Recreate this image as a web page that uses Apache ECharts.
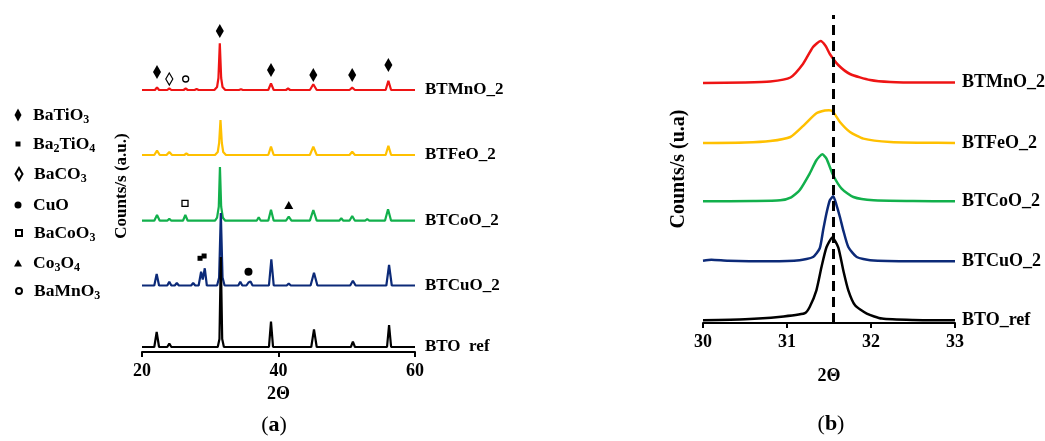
<!DOCTYPE html>
<html>
<head>
<meta charset="utf-8">
<script src="https://cdn.jsdelivr.net/npm/echarts@6/dist/echarts.min.js"></script>
<style>
  html, body { margin: 0; padding: 0; background: #fff; }
  #chart { width: 1045px; height: 441px; }
</style>
</head>
<body>
<div id="chart"></div>
<script>
// ---- (a) full patterns, 2θ vs counts above each baseline ----
var namesA = ['BTMnO_2', 'BTFeO_2', 'BTCoO_2', 'BTCuO_2', 'BTO  ref'];
var namesB = ['BTMnO_2', 'BTFeO_2', 'BTCoO_2', 'BTCuO_2', 'BTO_ref'];
var colors = ['#ee1414', '#ffc000', '#12b04c', '#0c2a78', '#000000'];
var offsetsA = [262, 197, 131.3, 66.5, 5];   // stacking offsets (a)
var offsetsB = [240, 180, 121.7, 61.7, 2.7]; // stacking offsets (b)

var xrdMnO = [[20,0],[21.9,0],[22.2,2.7],[22.5,0],[23.7,0],[24.0,1.7],[24.3,0],[26.1,0],[26.4,1.5],[26.7,0],
  [27.7,0],[28.0,1],[28.3,0],[30.6,0],[31.0,3],[31.2,12],[31.4,46.7],[31.6,12],[31.8,3],[32.2,0],
  [34.2,0],[34.5,0.8],[34.8,0],[38.5,0],[38.9,6.7],[39.3,0],[41.1,0],[41.4,1.5],[41.7,0],
  [44.6,0],[45.1,5.7],[45.6,0],[50.4,0],[50.8,2.3],[51.2,0],[55.7,0],[56.1,9.3],[56.5,0],[60,0]];
var xrdFeO = [[20,0],[21.8,0],[22.2,4.3],[22.6,0],[23.6,0],[24.0,3],[24.4,0],[26.2,0],[26.5,1.5],[26.8,0],
  [30.7,0],[31.1,3],[31.3,12],[31.5,35],[31.7,12],[31.9,3],[32.3,0],[38.5,0],[38.9,8.3],[39.3,0],
  [44.6,0],[45.1,8.3],[45.6,0],[50.4,0],[50.8,3.3],[51.2,0],[55.7,0],[56.1,9.3],[56.5,0],[60,0]];
var xrdCoO = [[20,0],[21.8,0],[22.2,5.7],[22.6,0],[23.7,0],[24.0,2],[24.3,0],[26.0,0],[26.35,5.7],[26.7,0],
  [30.7,0],[31.0,3],[31.25,14],[31.42,53.7],[31.6,14],[31.85,3],[32.2,0],[36.8,0],[37.1,3.4],[37.4,0],
  [38.5,0],[38.9,11],[39.3,0],[41.1,0],[41.5,4],[41.9,0],[44.6,0],[45.1,10.7],[45.6,0],
  [48.9,0],[49.2,2.4],[49.5,0],[50.4,0],[50.8,4.7],[51.2,0],[52.7,0],[53.0,1.5],[53.3,0],
  [55.6,0],[56.05,11.4],[56.5,0],[60,0]];
var xrdCuO = [[20,0],[21.8,0],[22.15,11.5],[22.5,0],[23.7,0],[24.0,3.8],[24.3,0],[24.8,0],[25.1,2.5],[25.4,0],
  [27.2,0],[27.5,2.5],[27.8,0],[28.3,0],[28.66,13.8],[28.9,6],[29.2,17.2],[29.5,0],
  [31.0,0],[31.3,8],[31.55,72.5],[31.8,8],[32.1,0],[34.1,0],[34.4,3.8],[34.7,0],
  [35.3,0],[35.6,3],[35.9,4],[36.2,0],[38.6,0],[38.95,26.2],[39.3,0],[41.2,0],[41.5,2],[41.8,0],
  [44.7,0],[45.2,12.8],[45.7,0],[50.5,0],[50.9,4.8],[51.3,0],[55.8,0],[56.2,20.5],[56.6,0],[60,0]];
var xrdRef = [[20,0],[21.8,0],[22.15,15],[22.5,0],[23.7,0],[24.0,3.5],[24.3,0],
  [31.1,0],[31.35,8],[31.55,90],[31.75,8],[32.0,0],[34.2,0],[34.4,1],[34.6,0],
  [38.6,0],[38.9,25.3],[39.2,0],[44.8,0],[45.2,17.7],[45.6,0],[50.6,0],[50.9,5.3],[51.2,0],
  [55.9,0],[56.2,22],[56.5,0],[60,0]];

// phase markers (2θ, height on the (a) scale)
var phaseNames = ['BaTiO3', 'Ba2TiO4', 'BaCO3', 'CuO', 'BaCoO3', 'Co3O4', 'BaMnO3'];
var phaseBaTiO3 = [[22.2,280],[31.4,321],[38.9,282],[45.1,277],[50.8,277],[56.1,287]];
var phaseBa2TiO4 = [[28.5,93.7],[29.1,96]];
var phaseBaCO3 = [[24.0,273]];
var phaseCuO = [[35.6,80.3]];
var phaseBaCoO3 = [[26.3,148.7]];
var phaseCo3O4 = [[41.5,147]];
var phaseBaMnO3 = [[26.4,273]];

// ---- (b) zoom on the (110) reflection ----
var zoomMnO = [[30,0],[30.5,0.5],[30.8,1.5],[31.04,5.5],[31.19,19],[31.31,36],[31.4,42],[31.46,37],
  [31.51,29],[31.61,18],[31.75,9],[31.99,3],[32.23,1],[32.6,0.5],[33,0.5]];
var zoomFeO = [[30,0],[30.5,0.5],[30.8,2],[31.04,6],[31.2,17.7],[31.35,29.7],[31.45,32.5],[31.5,32.7],
  [31.55,31],[31.63,21],[31.75,11],[31.91,4.4],[32.23,1],[32.6,0.3],[33,0]];
var zoomCoO = [[30,0],[30.6,0.3],[30.92,1],[31.05,4],[31.15,11],[31.27,27.7],[31.35,41],[31.42,47],
  [31.47,42.7],[31.55,26],[31.65,12.7],[31.79,4.3],[32.03,1],[32.5,0.3],[33,0]];
var zoomCuO = [[30,0.5],[30.1,1.5],[30.3,0.5],[30.8,0],[31.15,1],[31.31,4.3],[31.39,13],[31.43,31],
  [31.47,48],[31.51,61],[31.55,65],[31.59,56],[31.63,44.3],[31.67,31],[31.73,14.3],[31.83,4.3],
  [31.99,1],[32.5,0],[33,0]];
var zoomRef = [[30,0],[30.5,1],[30.9,3.3],[31.21,7],[31.27,13.3],[31.35,30],[31.41,53],[31.47,73],
  [31.54,82.7],[31.61,73],[31.67,50],[31.73,30],[31.81,15],[31.95,6.7],[32.13,1.7],[32.5,0.3],[33,0]];
var refPeak = 31.55;

var ticksA = [20, 60, 20]; // min, max, interval
var ticksB = [30, 33, 1];

var serif = 'Liberation Serif';

function shift(points, off) {
  return points.map(function (p) { return [p[0], p[1] + off]; });
}

var chart = echarts.init(document.getElementById('chart'), null, { renderer: 'canvas' });

var axisX = function (idx, t, gap) {
  return {
    type: 'value', gridIndex: idx, min: t[0], max: t[1], interval: t[2],
    name: '2\u0398', nameLocation: 'middle', nameGap: gap,
    nameTextStyle: { color: '#000', fontFamily: serif, fontWeight: 'bold', fontSize: 18 },
    axisLine: { lineStyle: { color: '#000', width: 2 } },
    axisTick: { length: 5, lineStyle: { color: '#000', width: 2 } },
    axisLabel: { color: '#000', fontFamily: serif, fontWeight: 'bold', fontSize: 18, margin: 10 },
    splitLine: { show: false }
  };
};
var axisY = function (idx, max, label, gap, size) {
  return {
    type: 'value', gridIndex: idx, min: 0, max: max,
    name: label, nameLocation: 'middle', nameRotate: 90, nameGap: gap,
    nameTextStyle: { color: '#000', fontFamily: serif, fontWeight: 'bold', fontSize: size },
    axisLine: { show: false }, axisTick: { show: false }, axisLabel: { show: false },
    splitLine: { show: false }
  };
};

var series = [];
var dataA = [xrdMnO, xrdFeO, xrdCoO, xrdCuO, xrdRef];
var dataB = [zoomMnO, zoomFeO, zoomCoO, zoomCuO, zoomRef];
for (var i = 0; i < 5; i++) {
  series.push({
    name: namesA[i], type: 'line', xAxisIndex: 0, yAxisIndex: 0,
    data: shift(dataA[i], offsetsA[i]), showSymbol: false, symbol: 'none',
    lineStyle: { color: colors[i], width: 2.2 }, itemStyle: { color: colors[i] },
    endLabel: { show: true, formatter: '{a}', distance: 10, color: '#000',
      fontFamily: serif, fontWeight: 'bold', fontSize: 17 },
    silent: true
  });
}
for (var j = 0; j < 5; j++) {
  var s = {
    name: namesB[j], type: 'line', xAxisIndex: 1, yAxisIndex: 1,
    data: shift(dataB[j], offsetsB[j]), showSymbol: false, symbol: 'none',
    smooth: 0.2,
    lineStyle: { color: colors[j], width: 2.5, join: 'round' }, itemStyle: { color: colors[j] },
    endLabel: { show: true, formatter: '{a}', distance: 7, color: '#000',
      fontFamily: serif, fontWeight: 'bold', fontSize: 18 },
    silent: true
  };
  if (j === 4) {
    s.markLine = {
      silent: true, symbol: 'none', label: { show: false },
      lineStyle: { color: '#000', width: 3, type: [10, 6] },
      data: [{ xAxis: refPeak }]
    };
  }
  series.push(s);
}

// marker series: symbol, size, filled or open
var phaseData = [phaseBaTiO3, phaseBa2TiO4, phaseBaCO3, phaseCuO, phaseBaCoO3, phaseCo3O4, phaseBaMnO3];
var phaseSymbols = ['diamond', 'rect', 'diamond', 'circle', 'rect', 'triangle', 'circle'];
var phaseSizes = [[8, 14], [5, 5], [7, 12], [8, 8], [6, 6], [9, 8], [6, 6]];
var phaseOpen = [false, false, true, false, true, false, true];
var legendRows = [115, 144, 174, 205, 233, 263, 291];
var legendIcon = [[7, 13], [5, 5], [7, 12], [7, 7], [6, 6], [8, 7], [6, 6]];
var legends = [];
for (var k = 0; k < phaseNames.length; k++) {
  series.push({
    name: phaseNames[k], type: 'scatter', xAxisIndex: 0, yAxisIndex: 0,
    data: phaseData[k], symbol: phaseSymbols[k], symbolSize: phaseSizes[k],
    itemStyle: phaseOpen[k]
      ? { color: '#fff', borderColor: '#000', borderWidth: 1.3, opacity: 1 }
      : { color: '#000', opacity: 1 },
    z: 5, silent: true
  });
  var w = legendIcon[k][0];
  legends.push({
    data: [phaseNames[k]], orient: 'vertical', selectedMode: false,
    left: 18 - w / 2, top: legendRows[k] - 11, padding: 0,
    itemWidth: w, itemHeight: legendIcon[k][1],
    formatter: function (n) { return n.replace(/\d/g, function (d) { return '{s|' + d + '}'; }); },
    textStyle: {
      color: '#000', fontFamily: serif, fontWeight: 'bold', fontSize: 17.5, lineHeight: 22,
      padding: [0, 0, 0, 10 - w / 2],
      rich: { s: { color: '#000', fontFamily: serif, fontWeight: 'bold', fontSize: 12,
        lineHeight: 12, verticalAlign: 'bottom' } }
    }
  });
}

var option = {
  animation: false,
  backgroundColor: '#fff',
  textStyle: { fontFamily: serif },
  legend: legends,
  grid: [
    { left: 142, width: 273, top: 20, height: 332 },
    { left: 703, width: 252, top: 15, height: 308 }
  ],
  xAxis: [axisX(0, ticksA, 32), axisX(1, ticksB, 44)],
  yAxis: [axisY(0, 332, 'Counts/s (a.u.)', 12, 17), axisY(1, 308, 'Counts/s (u.a)', 14, 20)],
  graphic: [
    { type: 'text', x: 274, y: 425, style: { text: '({b|a})', align: 'center', verticalAlign: 'middle',
      fill: '#000', font: '22px "Liberation Serif"',
      rich: { b: { fontWeight: 'bold', fontSize: 22, fontFamily: serif, fill: '#000' } } } },
    { type: 'text', x: 831, y: 424, style: { text: '({b|b})', align: 'center', verticalAlign: 'middle',
      fill: '#000', font: '22px "Liberation Serif"',
      rich: { b: { fontWeight: 'bold', fontSize: 22, fontFamily: serif, fill: '#000' } } } }
  ],
  series: series
};

chart.setOption(option);
</script>
</body>
</html>
